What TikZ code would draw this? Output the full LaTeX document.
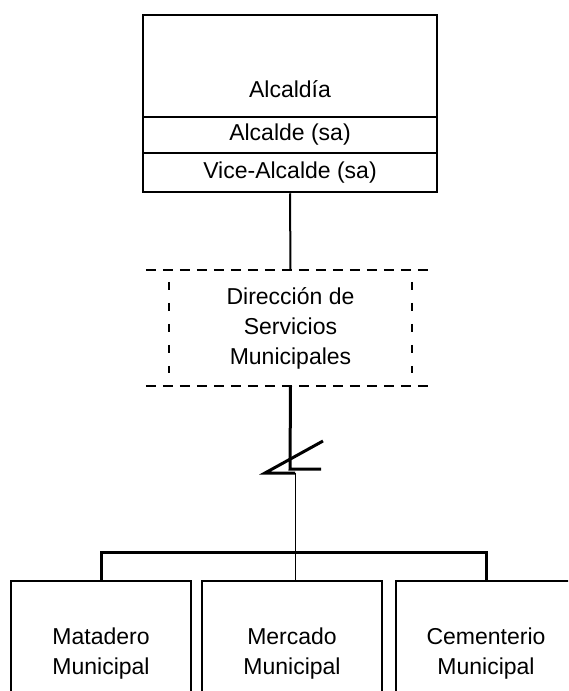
\documentclass[tikz,border=0pt]{standalone}
\usepackage{fontspec}
\setmainfont{Liberation Sans}
\usetikzlibrary{positioning}

\tikzset{
    unit/.style={draw, line width=2.5pt, minimum width=294pt, inner sep=0pt},
    office/.style={draw, line width=2pt, minimum width=180pt, minimum height=146pt, align=center, inner sep=0pt},
    dashline/.style={line width=2.5pt, dash pattern=on 10pt off 7pt},
    dashside/.style={line width=2.5pt, dash pattern=on 8pt off 13pt},
    bus/.style={line width=3pt},
    link/.style={line width=2pt},
    feed/.style={line width=1pt}
}

\begin{document}
\begin{tikzpicture}[x=1pt, y=-1pt, font=\fontsize{23}{30}\selectfont]
    \useasboundingbox (0,0) rectangle (568,691);
    \clip (0,0) rectangle (568,691);

    % Alcaldia block
    \node[unit, minimum height=102pt] (alcaldia) at (290,66) {};
    \node (alcaldiatxt) at (290,89) {Alcaldía};
    \node[unit, minimum height=36pt] (alcalde) at (290,135) {Alcalde (sa)};
    \node[unit, minimum height=39pt] (vice) at (290,172.5) {Vice-Alcalde (sa)};

    % Direccion (dashed frame)
    \node[minimum width=243pt, minimum height=116pt, align=center, inner sep=0pt] (direccion) at (290.5,328)
        {Dirección de\\Servicios\\Municipales};
    \draw[dashline] ([xshift=-23pt]direccion.north west) -- ([xshift=21pt]direccion.north east);
    \draw[dashline] ([xshift=-23pt]direccion.south west) -- ([xshift=21pt]direccion.south east);
    \draw[dashside] ([yshift=-12pt]direccion.north west) -- ([yshift=13pt]direccion.south west);
    \draw[dashside] ([yshift=-12pt]direccion.north east) -- ([yshift=13pt]direccion.south east);

    \draw[link] (vice.south) -- (direccion.north);

    % Offices
    \node[office] (matadero) at (101,654) {Matadero\\Municipal};
    \node[office] (mercado) at (292,654) {Mercado\\Municipal};
    \node[office] (cementerio) at (486,654) {Cementerio\\Municipal};

    % Break symbol
    \coordinate (brk) at (290,469);
    \coordinate (brktip) at (265,473);
    \coordinate (brkend) at (295,473);
    \draw[bus] (direccion.south) -- (brk) -- ++(31,0);
    \draw[bus] (323,441) -- (brktip) -- (brkend);
    \draw[feed] (brkend) -- (brkend |- mercado.north);

    % Bus to offices
    \draw[bus] (matadero.north) -- ++(0,-28) -| (cementerio.north);
\end{tikzpicture}
\end{document}
